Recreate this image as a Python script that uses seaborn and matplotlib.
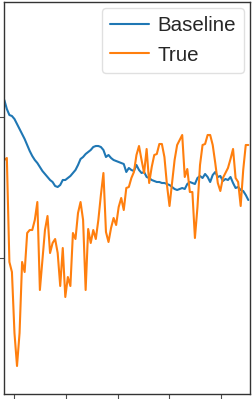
import numpy as np
import pandas as pd
import matplotlib
matplotlib.use("Agg")
import matplotlib.pyplot as plt
import seaborn as sns

# ---- data ----
steps = list(range(97))

baseline = [158, 149, 143, 142, 139, 134, 129, 124, 119, 113, 107, 102, 98, 95, 91, 87,
            84, 81, 78, 76, 72, 71, 73, 78, 78, 80, 82, 85, 88, 93, 99, 101, 104, 106,
            108, 111, 112, 112, 111, 108, 101, 103, 100, 98, 97, 96, 95, 94, 86, 90, 88,
            87, 93, 88, 85, 86, 81, 80, 78, 77, 76, 76, 75, 75, 74, 73, 71, 69, 68, 69,
            70, 69, 74, 76, 75, 74, 80, 82, 80, 84, 81, 76, 83, 86, 81, 82, 77, 79, 78,
            81, 75, 70, 71, 68, 67, 63, 58]

true_vals = [98, 100, -4, -14, -75, -108, -75, -4, -14, 25, 28, 28, 38, 56, -32, -2, 28,
             42, 5, 15, 19, 5, -28, 10, -39, -19, -28, 25, 19, 45, 56, 38, -32, 29, 15,
             28, 19, 38, 63, 85, 26, 16, 30, 40, 33, 51, 60, 48, 70, 71, 80, 86, 103, 112,
             98, 85, 109, 75, 91, 103, 104, 114, 114, 101, 73, 52, 75, 98, 113, 118, 123,
             81, 89, 66, 66, 20, 51, 93, 113, 114, 123, 123, 113, 95, 75, 67, 80, 85, 90,
             99, 109, 80, 76, 52, 88, 113, 113]

series_names = ["Baseline", "True"]
series_colors = ["#1f77b4", "#ff7f0e"]

x_ticks = [4, 24.3, 44.6, 64.9, 85.2]
y_ticks = [0, 141]

df = pd.DataFrame({
    "step": steps * 2,
    "value": baseline + true_vals,
    "series": [series_names[0]] * len(steps) + [series_names[1]] * len(steps),
})

sns.set_style("ticks")
plt.rcParams["font.family"] = ["Liberation Sans", "DejaVu Sans"]

W, H = 253, 399
fig = plt.figure(figsize=(W / 100, H / 100), dpi=100)
ax = fig.add_axes([4 / W, (H - 394) / H, 246 / W, 392 / H])

sns.lineplot(data=df, x="step", y="value", hue="series",
             palette=dict(zip(series_names, series_colors)),
             linewidth=1.5, ax=ax)

ax.set_xlim(-0.12, 96.67)
ax.set_ylim(-136, 256)
ax.set_xticks(x_ticks)
ax.set_yticks(y_ticks)
ax.set_xticklabels([])
ax.set_yticklabels([])
ax.set_xlabel("")
ax.set_ylabel("")
ax.tick_params(axis="both", length=3.5, width=0.8, colors="0.3")
for s in ax.spines.values():
    s.set_linewidth(1.0)
    s.set_color("0.2")

leg = ax.legend(loc="upper right", fontsize=14.8, frameon=True,
                borderaxespad=0.3, handlelength=1.9, handletextpad=0.4)
leg.get_frame().set_edgecolor("0.85")
leg.get_frame().set_linewidth(1.0)

fig.savefig("out.png", dpi=100)
